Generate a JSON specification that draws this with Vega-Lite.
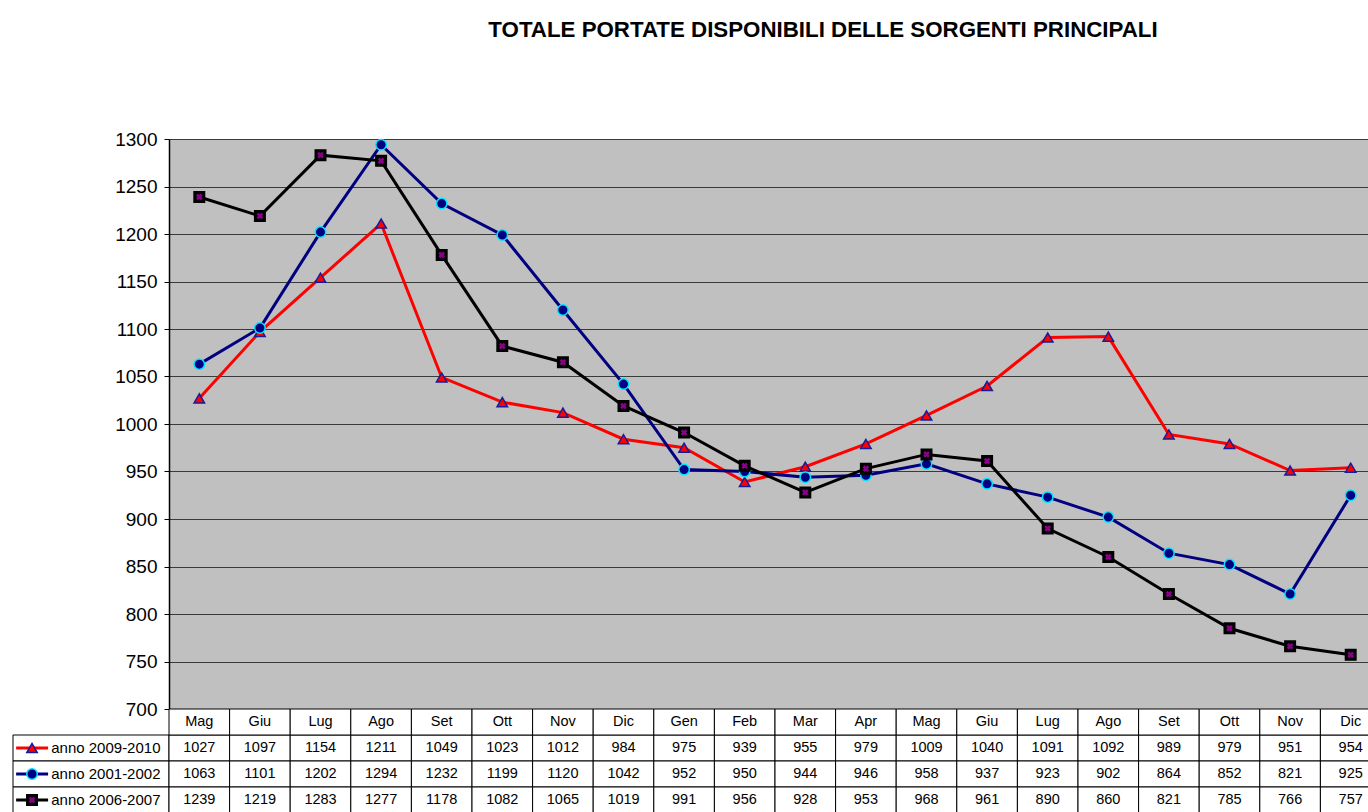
{
  "$schema": "https://vega.github.io/schema/vega-lite/v6.json",
  "padding": {"left": 12, "top": 18, "right": 0, "bottom": 0},
  "background": "white",
  "title": {"text": "TOTALE PORTATE DISPONIBILI DELLE SORGENTI PRINCIPALI", "font": "Liberation Sans", "fontSize": 22.3, "fontWeight": "bold", "color": "black", "anchor": "middle", "dx": 126, "offset": 89, "baseline": "top"},
  "config": {"view": {"stroke": null}, "font": "Liberation Sans"},
  "columns": 2,
  "spacing": 0,
  "bounds": "flush",
  "align": "each",
  "resolve": {"scale": {"x": "independent", "y": "independent"}},
  "datasets": {
    "dati": [
      {"p": 1, "mese": "Mag", "serie": "anno 2009-2010", "valore": 1027},
      {"p": 2, "mese": "Giu", "serie": "anno 2009-2010", "valore": 1097},
      {"p": 3, "mese": "Lug", "serie": "anno 2009-2010", "valore": 1154},
      {"p": 4, "mese": "Ago", "serie": "anno 2009-2010", "valore": 1211},
      {"p": 5, "mese": "Set", "serie": "anno 2009-2010", "valore": 1049},
      {"p": 6, "mese": "Ott", "serie": "anno 2009-2010", "valore": 1023},
      {"p": 7, "mese": "Nov", "serie": "anno 2009-2010", "valore": 1012},
      {"p": 8, "mese": "Dic", "serie": "anno 2009-2010", "valore": 984},
      {"p": 9, "mese": "Gen", "serie": "anno 2009-2010", "valore": 975},
      {"p": 10, "mese": "Feb", "serie": "anno 2009-2010", "valore": 939},
      {"p": 11, "mese": "Mar", "serie": "anno 2009-2010", "valore": 955},
      {"p": 12, "mese": "Apr", "serie": "anno 2009-2010", "valore": 979},
      {"p": 13, "mese": "Mag", "serie": "anno 2009-2010", "valore": 1009},
      {"p": 14, "mese": "Giu", "serie": "anno 2009-2010", "valore": 1040},
      {"p": 15, "mese": "Lug", "serie": "anno 2009-2010", "valore": 1091},
      {"p": 16, "mese": "Ago", "serie": "anno 2009-2010", "valore": 1092},
      {"p": 17, "mese": "Set", "serie": "anno 2009-2010", "valore": 989},
      {"p": 18, "mese": "Ott", "serie": "anno 2009-2010", "valore": 979},
      {"p": 19, "mese": "Nov", "serie": "anno 2009-2010", "valore": 951},
      {"p": 20, "mese": "Dic", "serie": "anno 2009-2010", "valore": 954},
      {"p": 1, "mese": "Mag", "serie": "anno 2001-2002", "valore": 1063},
      {"p": 2, "mese": "Giu", "serie": "anno 2001-2002", "valore": 1101},
      {"p": 3, "mese": "Lug", "serie": "anno 2001-2002", "valore": 1202},
      {"p": 4, "mese": "Ago", "serie": "anno 2001-2002", "valore": 1294},
      {"p": 5, "mese": "Set", "serie": "anno 2001-2002", "valore": 1232},
      {"p": 6, "mese": "Ott", "serie": "anno 2001-2002", "valore": 1199},
      {"p": 7, "mese": "Nov", "serie": "anno 2001-2002", "valore": 1120},
      {"p": 8, "mese": "Dic", "serie": "anno 2001-2002", "valore": 1042},
      {"p": 9, "mese": "Gen", "serie": "anno 2001-2002", "valore": 952},
      {"p": 10, "mese": "Feb", "serie": "anno 2001-2002", "valore": 950},
      {"p": 11, "mese": "Mar", "serie": "anno 2001-2002", "valore": 944},
      {"p": 12, "mese": "Apr", "serie": "anno 2001-2002", "valore": 946},
      {"p": 13, "mese": "Mag", "serie": "anno 2001-2002", "valore": 958},
      {"p": 14, "mese": "Giu", "serie": "anno 2001-2002", "valore": 937},
      {"p": 15, "mese": "Lug", "serie": "anno 2001-2002", "valore": 923},
      {"p": 16, "mese": "Ago", "serie": "anno 2001-2002", "valore": 902},
      {"p": 17, "mese": "Set", "serie": "anno 2001-2002", "valore": 864},
      {"p": 18, "mese": "Ott", "serie": "anno 2001-2002", "valore": 852},
      {"p": 19, "mese": "Nov", "serie": "anno 2001-2002", "valore": 821},
      {"p": 20, "mese": "Dic", "serie": "anno 2001-2002", "valore": 925},
      {"p": 1, "mese": "Mag", "serie": "anno 2006-2007", "valore": 1239},
      {"p": 2, "mese": "Giu", "serie": "anno 2006-2007", "valore": 1219},
      {"p": 3, "mese": "Lug", "serie": "anno 2006-2007", "valore": 1283},
      {"p": 4, "mese": "Ago", "serie": "anno 2006-2007", "valore": 1277},
      {"p": 5, "mese": "Set", "serie": "anno 2006-2007", "valore": 1178},
      {"p": 6, "mese": "Ott", "serie": "anno 2006-2007", "valore": 1082},
      {"p": 7, "mese": "Nov", "serie": "anno 2006-2007", "valore": 1065},
      {"p": 8, "mese": "Dic", "serie": "anno 2006-2007", "valore": 1019},
      {"p": 9, "mese": "Gen", "serie": "anno 2006-2007", "valore": 991},
      {"p": 10, "mese": "Feb", "serie": "anno 2006-2007", "valore": 956},
      {"p": 11, "mese": "Mar", "serie": "anno 2006-2007", "valore": 928},
      {"p": 12, "mese": "Apr", "serie": "anno 2006-2007", "valore": 953},
      {"p": 13, "mese": "Mag", "serie": "anno 2006-2007", "valore": 968},
      {"p": 14, "mese": "Giu", "serie": "anno 2006-2007", "valore": 961},
      {"p": 15, "mese": "Lug", "serie": "anno 2006-2007", "valore": 890},
      {"p": 16, "mese": "Ago", "serie": "anno 2006-2007", "valore": 860},
      {"p": 17, "mese": "Set", "serie": "anno 2006-2007", "valore": 821},
      {"p": 18, "mese": "Ott", "serie": "anno 2006-2007", "valore": 785},
      {"p": 19, "mese": "Nov", "serie": "anno 2006-2007", "valore": 766},
      {"p": 20, "mese": "Dic", "serie": "anno 2006-2007", "valore": 757}
    ],
    "serie": [
      {"serie": "anno 2009-2010"},
      {"serie": "anno 2001-2002"},
      {"serie": "anno 2006-2007"}
    ]
  },
  "concat": [
    {
      "width": 156,
      "height": 570,
      "data": {"values": [{}]},
      "mark": {"type": "text", "text": ""}
    },
    {
      "width": 1212,
      "height": 570,
      "view": {"fill": "#c0c0c0", "stroke": null},
      "data": {"name": "dati"},
      "encoding": {
        "x": {"field": "p", "type": "ordinal", "axis": null, "scale": {"paddingInner": 0, "paddingOuter": 0}},
        "y": {
          "field": "valore", "type": "quantitative",
          "scale": {"domain": [700, 1300], "nice": false, "zero": false},
          "axis": {"values": [700, 750, 800, 850, 900, 950, 1000, 1050, 1100, 1150, 1200, 1250, 1300], "format": "d", "title": null, "labelFontSize": 19, "labelColor": "black", "labelFont": "Liberation Sans", "tickColor": "black", "tickSize": 5, "domainColor": "black", "domainWidth": 1.5, "gridColor": "#3a3a3a", "gridWidth": 1, "labelPadding": 7}
        }
      },
      "layer": [
        {
          "mark": {"type": "line", "strokeWidth": 3},
          "encoding": {
            "color": {"field": "serie", "type": "nominal", "scale": {"domain": ["anno 2009-2010", "anno 2001-2002", "anno 2006-2007"], "range": ["#ff0000", "#000080", "#000000"]}, "legend": null}
          }
        },
        {
          "mark": {"type": "point", "filled": true, "size": 110, "strokeWidth": 1.5, "opacity": 1},
          "encoding": {
            "shape": {"field": "serie", "type": "nominal", "scale": {"domain": ["anno 2009-2010", "anno 2001-2002", "anno 2006-2007"], "range": ["triangle-up", "circle", "square"]}, "legend": null},
            "fill": {"field": "serie", "type": "nominal", "scale": {"domain": ["anno 2009-2010", "anno 2001-2002", "anno 2006-2007"], "range": ["#ff0000", "#000080", "#000000"]}, "legend": null},
            "stroke": {"field": "serie", "type": "nominal", "scale": {"domain": ["anno 2009-2010", "anno 2001-2002", "anno 2006-2007"], "range": ["#1a1a99", "#00e5ff", "#000000"]}, "legend": null}
          }
        },
        {
          "transform": [{"filter": "datum.serie === 'anno 2006-2007'"}],
          "mark": {"type": "point", "shape": "cross", "angle": 45, "size": 45, "filled": true, "color": "#8b008b", "opacity": 1}
        }
      ]
    },
    {
      "width": 156,
      "height": 104,
      "data": {"name": "serie"},
      "encoding": {
        "y": {"field": "serie", "type": "nominal", "axis": null, "scale": {"domain": ["hdr", "anno 2009-2010", "anno 2001-2002", "anno 2006-2007"], "paddingInner": 0, "paddingOuter": 0}}
      },
      "layer": [
        {
          "mark": {"type": "rect", "fill": "white", "stroke": "black", "strokeWidth": 1},
          "encoding": {
            "x": {"datum": 0, "type": "quantitative", "scale": {"domain": [0, 1]}, "axis": null},
            "x2": {"datum": 1}
          }
        },
        {
          "mark": {"type": "rule", "strokeWidth": 3},
          "encoding": {
            "x": {"datum": 0.02, "type": "quantitative"},
            "x2": {"datum": 0.225},
            "color": {"field": "serie", "type": "nominal", "legend": null}
          }
        },
        {
          "mark": {"type": "point", "filled": true, "size": 110, "strokeWidth": 1.5, "opacity": 1},
          "encoding": {
            "x": {"datum": 0.122, "type": "quantitative"},
            "shape": {"field": "serie", "type": "nominal", "legend": null},
            "fill": {"field": "serie", "type": "nominal", "legend": null},
            "stroke": {"field": "serie", "type": "nominal", "legend": null}
          }
        },
        {
          "transform": [{"filter": "datum.serie === 'anno 2006-2007'"}],
          "mark": {"type": "point", "shape": "cross", "angle": 45, "size": 45, "filled": true, "color": "#8b008b", "opacity": 1},
          "encoding": {"x": {"datum": 0.122, "type": "quantitative"}}
        },
        {
          "mark": {"type": "text", "align": "left", "baseline": "middle", "fontSize": 15, "font": "Liberation Sans", "color": "black"},
          "encoding": {
            "x": {"datum": 0.245, "type": "quantitative"},
            "text": {"field": "serie"}
          }
        }
      ]
    },
    {
      "width": 1212,
      "height": 104,
      "encoding": {
        "x": {"field": "p", "type": "ordinal", "axis": null, "scale": {"paddingInner": 0, "paddingOuter": 0}}
      },
      "layer": [
        {
          "data": {"name": "dati"},
          "mark": {"type": "rect", "fill": "white", "stroke": "black", "strokeWidth": 1},
          "encoding": {
            "y": {"field": "serie", "type": "nominal", "axis": null, "scale": {"domain": ["hdr", "anno 2009-2010", "anno 2001-2002", "anno 2006-2007"], "paddingInner": 0, "paddingOuter": 0}}
          }
        },
        {
          "data": {"name": "dati"},
          "transform": [{"filter": "datum.serie === 'anno 2009-2010'"}],
          "mark": {"type": "rect", "fill": "white", "stroke": "black", "strokeWidth": 1},
          "encoding": {
            "y": {"datum": "hdr", "type": "nominal"}
          }
        },
        {
          "data": {"name": "dati"},
          "mark": {"type": "text", "fontSize": 14.5, "font": "Liberation Sans", "color": "black", "baseline": "middle"},
          "encoding": {
            "y": {"field": "serie", "type": "nominal"},
            "text": {"field": "valore", "type": "quantitative", "format": "d"}
          }
        },
        {
          "data": {"name": "dati"},
          "transform": [{"filter": "datum.serie === 'anno 2009-2010'"}],
          "mark": {"type": "text", "fontSize": 14.5, "font": "Liberation Sans", "color": "black", "baseline": "middle"},
          "encoding": {
            "y": {"datum": "hdr", "type": "nominal"},
            "text": {"field": "mese"}
          }
        }
      ]
    }
  ]
}
